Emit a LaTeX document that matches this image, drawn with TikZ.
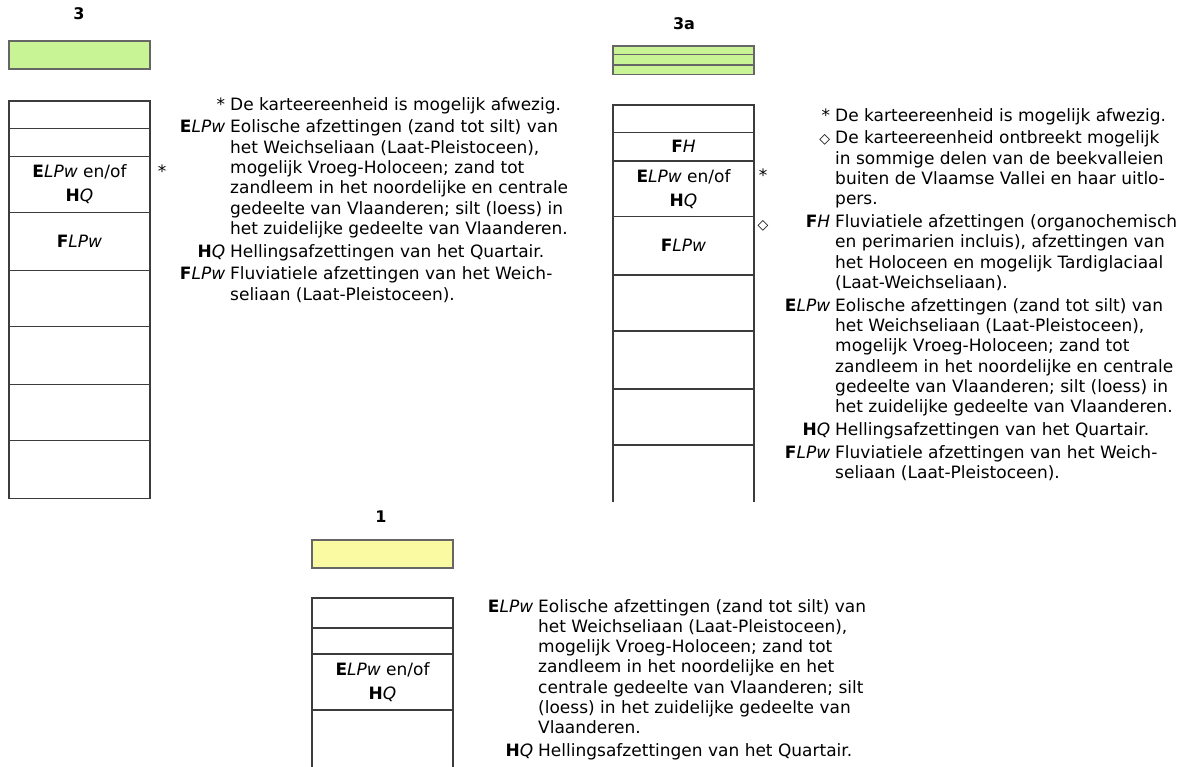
\documentclass[tikz,border=0pt]{standalone}
\usepackage{fontspec}
\setmainfont{DejaVu Sans}
\usepackage{array}
\usetikzlibrary{positioning,calc}

\definecolor{groen}{RGB}{200,244,150}
\definecolor{geel}{RGB}{250,250,163}
\definecolor{rand}{RGB}{60,60,60}

\newcommand{\ELPw}{\textbf{E}\textit{LPw}}
\newcommand{\FLPw}{\textbf{F}\textit{LPw}}
\newcommand{\HQ}{\textbf{H}\textit{Q}}
\newcommand{\FH}{\textbf{F}\textit{H}}
\newcommand{\ruit}{{\fontsize{14}{14}\selectfont ◇}}

\begin{document}
\begin{tikzpicture}[x=1pt,y=-1pt,
    laag/.style={draw=rand,line width=1.3pt,minimum width=141pt,inner sep=0pt,outer sep=0pt,align=center,font=\fontsize{17}{24}\selectfont},
    kleur/.style={draw=black!60,line width=1.3pt,minimum width=141pt,inner sep=0pt,outer sep=0pt,anchor=north west},
    titel/.style={font=\bfseries\fontsize{16}{18}\selectfont},
    teken/.style={inner sep=0pt,font=\fontsize{17}{20}\selectfont},
    legende/.style={anchor=base west,inner sep=0pt,font=\fontsize{17}{20.3}\selectfont}]

\useasboundingbox (0,0) rectangle (1185,766);

% kolom 3
\node[titel] (t3) at (79,14) {3};
\node[kleur,fill=groen,minimum height=28pt] (k3) at (9,41) {};
\node[laag,anchor=north west,minimum height=27.5pt] (a1) at (9,101) {};
\node[laag,below=0pt of a1,minimum height=28pt] (a2) {};
\node[laag,below=0pt of a2,minimum height=56pt] (a3) {\ELPw{} en/of\\\HQ};
\node[laag,below=0pt of a3,minimum height=58pt] (a4) {\FLPw};
\node[laag,below=0pt of a4,minimum height=56pt] (a5) {};
\node[laag,below=0pt of a5,minimum height=58pt] (a6) {};
\node[laag,below=0pt of a6,minimum height=56pt] (a7) {};
\node[laag,below=0pt of a7,minimum height=58pt] (a8) {};
\node[teken] (s3) at ($(a3.north east)+(12,14.5)$) {*};

\node[legende] (l3) at (165,110) {\begin{tabular}[t]{@{}>{\raggedleft\arraybackslash}p{60pt}@{\hspace{5pt}}l@{}}
* & De karteereenheid is mogelijk afwezig.\\[2.5pt]
\ELPw & Eolische afzettingen (zand tot silt) van\\
 & het Weichseliaan (Laat-Pleistoceen),\\
 & mogelijk Vroeg-Holoceen; zand tot\\
 & zandleem in het noordelijke en centrale\\
 & gedeelte van Vlaanderen; silt (loess) in\\
 & het zuidelijke gedeelte van Vlaanderen.\\[2.5pt]
\HQ & Hellingsafzettingen van het Quartair.\\[2.5pt]
\FLPw & Fluviatiele afzettingen van het Weich-\\
 & seliaan (Laat-Pleistoceen).
\end{tabular}};

% kolom 3a
\node[titel] (t3a) at (684,24) {3a};
\node[kleur,fill=groen,minimum height=8.5pt] (k3a1) at (613,46) {};
\node[kleur,fill=groen,minimum height=10.5pt,below=0pt of k3a1] (k3a2) {};
\node[kleur,fill=groen,minimum height=9.5pt,below=0pt of k3a2] (k3a3) {};
\node[laag,anchor=north west,minimum height=27.5pt] (b1) at (613,105) {};
\node[laag,below=0pt of b1,minimum height=28.5pt] (b2) {\FH};
\node[laag,below=0pt of b2,minimum height=55.5pt] (b3) {\ELPw{} en/of\\\HQ};
\node[laag,below=0pt of b3,minimum height=58.5pt] (b4) {\FLPw};
\node[laag,below=0pt of b4,minimum height=56pt] (b5) {};
\node[laag,below=0pt of b5,minimum height=58pt] (b6) {};
\node[laag,below=0pt of b6,minimum height=56pt] (b7) {};
\draw[rand,line width=1.3pt] (b7.south west) -- ++(0,57) (b7.south east) -- ++(0,57);
\node[teken] (s3a) at ($(b3.north east)+(9,14.5)$) {*};
\node[teken] (r3a) at ($(b4.north east)+(9,9)$) {\ruit};

\node[legende] (l3a) at (770,121) {\begin{tabular}[t]{@{}>{\raggedleft\arraybackslash}p{60pt}@{\hspace{5pt}}l@{}}
* & De karteereenheid is mogelijk afwezig.\\[2.5pt]
\ruit & De karteereenheid ontbreekt mogelijk\\
 & in sommige delen van de beekvalleien\\
 & buiten de Vlaamse Vallei en haar uitlo-\\
 & pers.\\[2.5pt]
\FH & Fluviatiele afzettingen (organochemisch\\
 & en perimarien incluis), afzettingen van\\
 & het Holoceen en mogelijk Tardiglaciaal\\
 & (Laat-Weichseliaan).\\[2.5pt]
\ELPw & Eolische afzettingen (zand tot silt) van\\
 & het Weichseliaan (Laat-Pleistoceen),\\
 & mogelijk Vroeg-Holoceen; zand tot\\
 & zandleem in het noordelijke en centrale\\
 & gedeelte van Vlaanderen; silt (loess) in\\
 & het zuidelijke gedeelte van Vlaanderen.\\[2.5pt]
\HQ & Hellingsafzettingen van het Quartair.\\[2.5pt]
\FLPw & Fluviatiele afzettingen van het Weich-\\
 & seliaan (Laat-Pleistoceen).
\end{tabular}};

% kolom 1
\node[titel] (t1) at (381,517) {1};
\node[kleur,fill=geel,minimum height=28pt] (k1) at (312,540) {};
\node[laag,anchor=north west,minimum height=30pt] (c1) at (312,598) {};
\node[laag,below=0pt of c1,minimum height=26pt] (c2) {};
\node[laag,below=0pt of c2,minimum height=56pt] (c3) {\ELPw{} en/of\\\HQ};
\draw[rand,line width=1.3pt] (c3.south west) -- ++(0,60) (c3.south east) -- ++(0,60);

\node[legende] (l1) at (473,612) {\begin{tabular}[t]{@{}>{\raggedleft\arraybackslash}p{60pt}@{\hspace{5pt}}l@{}}
\ELPw & Eolische afzettingen (zand tot silt) van\\
 & het Weichseliaan (Laat-Pleistoceen),\\
 & mogelijk Vroeg-Holoceen; zand tot\\
 & zandleem in het noordelijke en het\\
 & centrale gedeelte van Vlaanderen; silt\\
 & (loess) in het zuidelijke gedeelte van\\
 & Vlaanderen.\\[2.5pt]
\HQ & Hellingsafzettingen van het Quartair.
\end{tabular}};
\end{tikzpicture}
\end{document}
